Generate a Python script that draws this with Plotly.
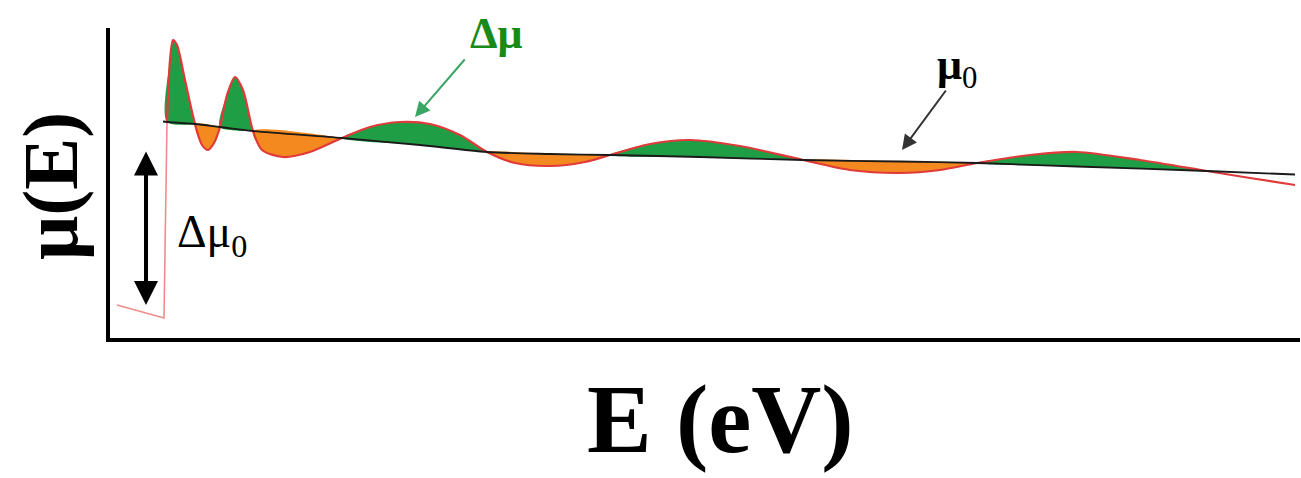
import plotly.graph_objects as go

# ---- data (arbitrary units read from the schematic) ----
pre_E = [9, 32, 56, 59]
pre_mu = [36, 30, 23, 219]

E = [59, 62, 65, 69, 77, 87, 94, 100, 106, 112, 119, 127, 135, 145, 154, 175, 202,
     234, 262, 292, 322, 352, 379, 407, 442, 477, 502, 542, 582, 632, 695, 742, 792,
     832, 869, 922, 969, 1032, 1099, 1142, 1187]
mu = [219, 281, 301, 296, 261, 217, 196, 191, 198, 214, 246, 264, 251, 210, 191, 184, 189,
      203, 214, 219, 217, 206, 189, 178, 175, 179, 186, 197, 201, 195, 181, 171, 168,
      171, 178, 186, 189, 181, 170, 163, 156]

E0 = [55, 59, 87, 112, 145, 234, 312, 379, 442, 502, 592, 695, 792, 869, 969, 1099, 1187]
mu0 = [219.5, 219, 217, 214, 210, 203, 196, 189, 187, 186, 184, 181, 179.5, 178, 174.5, 170, 166.5]

# oscillation lobes between crossings of mu and mu0
green_lobes = [(59, 87), (112, 145), (234, 379), (502, 695), (869, 1099)]
orange_lobes = [(87, 112), (145, 234), (379, 502), (695, 869)]

GREEN = "#1f9e45"
ORANGE = "#f3891f"
RED = "#e03a3a"

fig = go.Figure()


def lobe(a, b, color):
    xs = [e for e in E if a <= e <= b]
    ys = [m for e, m in zip(E, mu) if a <= e <= b]
    bx = [e for e in E0 if a <= e <= b]
    by = [m for e, m in zip(E0, mu0) if a <= e <= b]
    fig.add_trace(go.Scatter(
        x=xs + bx[::-1], y=ys + by[::-1], mode="lines", fill="toself",
        fillcolor=color, line=dict(width=0, shape="spline", smoothing=0.8),
        hoverinfo="skip", showlegend=False))


for a, b in green_lobes:
    lobe(a, b, GREEN)
for a, b in orange_lobes:
    lobe(a, b, ORANGE)

fig.add_trace(go.Scatter(x=pre_E, y=pre_mu, mode="lines",
                         line=dict(color="#f08c8c", width=1.6), showlegend=False))
fig.add_trace(go.Scatter(x=E, y=mu, mode="lines",
                         line=dict(color=RED, width=2.2, shape="spline", smoothing=0.8),
                         showlegend=False))
fig.add_trace(go.Scatter(x=E0, y=mu0, mode="lines",
                         line=dict(color="#1a1a1a", width=1.8, shape="spline", smoothing=0.8),
                         showlegend=False))

SERIF = "Liberation Serif"

annotations = [
    # double arrow for the edge jump
    dict(x=38, y=36, ax=38, ay=191, xref="x", yref="y", axref="x", ayref="y",
         text="", showarrow=True, arrowhead=2, arrowsize=1.2, arrowwidth=4,
         arrowcolor="black", arrowside="end+start", standoff=0, startstandoff=0),
    dict(x=104, y=106, xref="x", yref="y", text="Δμ<sub>0</sub>", showarrow=False,
         font=dict(family=SERIF, size=46, color="black")),
    # Δμ label + arrow
    dict(x=307, y=224, ax=358, ay=283, xref="x", yref="y", axref="x", ayref="y",
         text="", showarrow=True, arrowhead=2, arrowsize=1.5, arrowwidth=2,
         arrowcolor="#3aa565", standoff=0),
    dict(x=388, y=308, xref="x", yref="y", text="<b>Δμ</b>", showarrow=False,
         font=dict(family=SERIF, size=44, color="#178a17")),
    # μ0 label + arrow
    dict(x=794, y=191, ax=839, ay=252, xref="x", yref="y", axref="x", ayref="y",
         text="", showarrow=True, arrowhead=2, arrowsize=1.5, arrowwidth=2,
         arrowcolor="#333333", standoff=0),
    dict(x=849, y=274, xref="x", yref="y", text="<b>μ</b><sub>0</sub>", showarrow=False,
         font=dict(family=SERIF, size=44, color="black")),
    # axis titles
    dict(x=(720 - 110) / 1190, y=-81 / 310, xref="paper", yref="paper",
         text="<b>E (eV)</b>", showarrow=False, xanchor="center", yanchor="middle",
         font=dict(family=SERIF, size=97, color="black")),
    dict(x=(50 - 110) / 1190, y=(338 - 186) / 310, xref="paper", yref="paper",
         text="<b>μ(E)</b>", textangle=-90, showarrow=False, xanchor="center",
         yanchor="middle", font=dict(family=SERIF, size=78, color="black")),
]

fig.update_layout(
    width=1301, height=478,
    margin=dict(l=110, r=1, t=28, b=140),
    paper_bgcolor="white", plot_bgcolor="white",
    showlegend=False,
    annotations=annotations,
    xaxis=dict(range=[2, 1192], showline=True, linecolor="black", linewidth=4,
               showgrid=False, zeroline=False, showticklabels=False, ticks=""),
    yaxis=dict(range=[3, 313], showline=True, linecolor="black", linewidth=4,
               showgrid=False, zeroline=False, showticklabels=False, ticks=""),
)

fig.write_html("out.html")
